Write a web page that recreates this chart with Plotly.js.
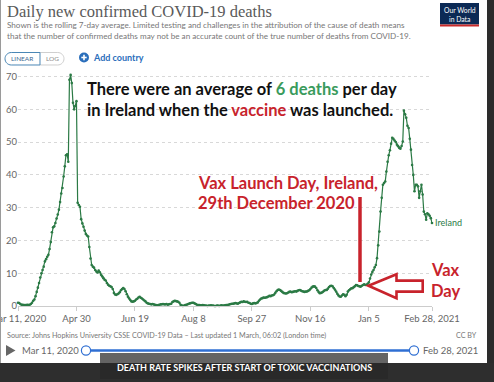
<!DOCTYPE html>
<html><head><meta charset="utf-8">
<script src="https://cdn.plot.ly/plotly-3.0.1.min.js"></script>
<style>html,body{margin:0;padding:0;background:#fff;overflow:hidden}#chart{width:494px;height:382px}</style>
</head><body><div id="chart"></div>
<script>
// ---- data (7-day rolling average of daily confirmed COVID-19 deaths, Ireland) ----
const startDate = '2020-03-11';
const endDate = '2021-02-28';
const countryName = 'Ireland';
const deaths = [
 1.0, 0.9, 0.6, 0.4, 0.4, 0.3, 0.3, 0.3, 0.4, 0.3,
 0.4, 0.6, 1.0, 1.6, 2.0, 3.0, 4.3, 5.6, 7.0, 8.7,
 10.0, 11.0, 12.0, 13.6, 14.3, 15.0, 15.6, 17.4, 19.5, 22.5,
 24.0, 24.3, 25.3, 26.7, 27.9, 29.4, 31.7, 34.3, 36.0, 39.5,
 42.6, 46.0, 46.3, 44.0, 69.0, 70.5, 68.0, 62.0, 60.0, 61.0,
 62.5, 31.5, 30.8, 30.3, 26.5, 25.2, 24.2, 23.0, 22.0, 21.5,
 21.2, 18.0, 14.5, 12.5, 12.0, 11.7, 11.0, 10.5, 10.2, 10.8,
 10.3, 9.5, 9.0, 8.5, 8.0, 7.8, 7.0, 6.5, 6.2, 6.0,
 5.8, 5.2, 4.0, 3.5, 3.4, 3.6, 3.8, 4.2, 4.8, 5.2,
 5.5, 5.2, 4.5, 3.6, 2.8, 2.3, 1.8, 1.4, 1.3, 1.4,
 1.6, 2.0, 2.2, 2.6, 2.8, 2.5, 2.3, 2.0, 1.7, 1.4,
 1.0, 0.8, 0.7, 0.6, 0.5, 0.6, 0.5, 0.4, 0.3, 0.2,
 0.3, 0.4, 0.5, 0.5, 0.6, 0.5, 0.5, 0.6, 0.4, 0.5,
 0.6, 0.7, 1.2, 1.4, 1.6, 1.5, 1.4, 1.3, 1.0, 0.4,
 0.2, 0.0, 0.1, 0.3, 0.4, 0.5, 0.7, 0.8, 0.9, 1.0,
 1.0, 0.8, 0.6, 0.4, 0.3, 0.3, 0.2, 0.2, 0.3, 0.2,
 0.1, 0.1, 0.0, 0.1, 0.1, 0.2, 0.1, 0.1, 0.0, 0.0,
 0.1, 0.1, 0.0, 0.1, 0.2, 0.1, 0.1, 0.2, 0.3, 0.3,
 0.4, 0.5, 0.6, 0.7, 0.7, 0.8, 0.9, 0.8, 0.7, 0.9,
 1.1, 1.3, 1.2, 1.4, 1.3, 1.2, 1.3, 1.0, 0.9, 0.7,
 0.6, 0.8, 0.9, 0.8, 0.9, 1.1, 1.6, 2.0, 2.3, 2.4,
 2.6, 2.5, 2.6, 2.7, 2.9, 3.1, 3.0, 3.2, 3.3, 3.5,
 4.0, 4.5, 4.9, 5.0, 4.9, 4.6, 4.3, 4.0, 3.9, 3.8,
 3.9, 4.1, 4.3, 4.4, 4.2, 4.3, 4.4, 4.5, 4.4, 4.6,
 4.8, 4.9, 4.7, 4.5, 4.4, 4.3, 4.4, 4.4, 4.6, 4.8,
 5.2, 5.6, 5.9, 6.0, 5.9, 5.5, 4.8, 4.3, 3.9, 4.0,
 4.1, 4.4, 4.7, 4.9, 4.9, 5.3, 5.8, 6.1, 6.2, 6.0,
 5.5, 5.0, 4.4, 3.7, 3.2, 2.9, 2.8, 3.2, 3.6, 3.4,
 3.0, 3.4, 4.4, 4.8, 5.1, 5.4, 5.4, 5.7, 6.0, 6.4,
 6.3, 6.1, 6.0, 5.9, 6.2, 6.4, 6.6, 6.4, 6.5, 6.8,
 7.2, 8.4, 9.6, 10.4, 11.0, 11.8, 12.5, 14.6, 18.5, 22.7,
 28.8, 33.0, 37.0, 37.5, 38.0, 41.0, 44.0, 46.0, 47.5, 49.5,
 51.3, 51.0, 50.5, 50.0, 49.2, 48.7, 48.2, 48.0, 48.8, 50.2,
 59.6, 58.5, 57.4, 55.0, 54.3, 51.0, 47.7, 43.0, 40.0, 35.0,
 37.0, 37.0, 36.5, 33.0, 35.0, 37.0, 34.0, 28.8, 28.0, 26.3,
 28.3, 28.0, 27.5, 26.8, 25.3
];
const xTickVals = ['2020-03-11','2020-04-30','2020-06-19','2020-08-08','2020-09-27','2020-11-16','2021-01-05','2021-02-28'];
const xTickText = ['Mar 11, 2020','Apr 30','Jun 19','Aug 8','Sep 27','Nov 16','Jan 5','Feb 28, 2021'];
const yTickVals = [0, 10, 20, 30, 40, 50, 60, 70];

// ---- pixel helpers (plot area: x 18..432, y 70..306) ----
const L = 18, R = 432, T = 70, B = 306;
function px(x){ return (x - L) / (R - L); }
function py(y){ return (B - y) / (B - T); }
function path(cmds){
  return cmds.map(c => {
    if (c[0] === 'Z') return 'Z';
    let s = c[0];
    for (let i = 1; i < c.length; i += 2) s += ' ' + px(c[i]).toFixed(5) + ',' + py(c[i+1]).toFixed(5);
    return s;
  }).join(' ');
}
function rect(x0, y0, x1, y1, fill, extra){
  return Object.assign({type:'rect', xref:'paper', yref:'paper', x0:px(x0), x1:px(x1), y0:py(y1), y1:py(y0),
    fillcolor:fill, line:{width:0}}, extra || {});
}
function seg(x0, y0, x1, y1, color, w){
  return {type:'line', xref:'paper', yref:'paper', x0:px(x0), x1:px(x1), y0:py(y0), y1:py(y1), line:{color:color, width:w}};
}
function circ(cx, cy, r, fill, lineColor, lw){
  return {type:'circle', xref:'paper', yref:'paper', x0:px(cx-r), x1:px(cx+r), y0:py(cy+r), y1:py(cy-r),
    fillcolor:fill, line:{color:lineColor || fill, width:lw || 0}};
}
function ann(x, y, text, size, color, opts){
  return Object.assign({xref:'paper', yref:'paper', x:px(x), y:py(y), text:text, showarrow:false,
    xanchor:'left', yanchor:'middle', font:{family:'Lato', size:size, color:color}}, opts || {});
}

const RED = '#c8232c', GREEN_TXT = '#3a9b5c', LINE = '#2b7a45', BLUE = '#2f6fd3';
const k = 0.5523, r = 6.25;

const shapes = [
  // frame
  rect(487, 0, 494, 382, '#2c2c2c'),
  rect(0, 363, 494, 382, '#2e2e2e'),
  rect(0, 0, 1, 363, '#9a9a9a'),
  rect(100, 353, 388, 379, 'rgba(40,40,40,0.72)'),
  // logo
  rect(440, 3, 479, 24.5, '#0b2a55'),
  rect(440, 24.5, 479, 26.5, '#c92a2a'),
  // LOG segment
  {type:'path', xref:'paper', yref:'paper', line:{color:'#cfcfcf', width:1}, fillcolor:'rgba(0,0,0,0)',
   path: path([['M',40,52.5],['L',64-r,52.5],['C',64-r+k*r,52.5, 64,58.75-k*r, 64,58.75],
               ['C',64,58.75+k*r, 64-r+k*r,65, 64-r,65],['L',40,65]])},
  // LINEAR segment
  {type:'path', xref:'paper', yref:'paper', line:{color:'#4a87b5', width:1}, fillcolor:'rgba(0,0,0,0)',
   path: path([['M',40,52.5],['L',5+r,52.5],['C',5+r-k*r,52.5, 5,58.75-k*r, 5,58.75],
               ['C',5,58.75+k*r, 5+r-k*r,65, 5+r,65],['L',40,65],['Z']])},
  // add country icon
  circ(84, 57.5, 5, '#2a6ebb'),
  seg(81.3, 57.5, 86.7, 57.5, '#fff', 1.6),
  seg(84, 54.8, 84, 60.2, '#fff', 1.6),
  // vax launch marker line + arrow
  seg(360, 197, 360, 282, RED, 3.5),
  {type:'path', xref:'paper', yref:'paper', line:{color:RED, width:2.6}, fillcolor:'rgba(0,0,0,0)',
   path: path([['M',368.5,285.8],['L',396.5,274.3],['L',396.5,280.6],['L',422.7,280.6],['L',422.7,291.6],
               ['L',396.5,291.6],['L',396.5,298.2],['Z']])},
  // timeline slider
  {type:'path', xref:'paper', yref:'paper', line:{width:0}, fillcolor:'#666',
   path: path([['M',6,345],['L',6,356],['L',15.5,350.5],['Z']])},
  seg(86, 350.5, 414, 350.5, BLUE, 2.6),
  circ(86, 350.5, 4.6, '#fff', BLUE, 1.2),
  circ(414, 350.5, 4.6, '#fff', BLUE, 1.2)
];

const annotations = [
  ann(5, 11.5, 'Daily new confirmed COVID-19 deaths', 16.5, '#5a5a5a', {font:{family:'Liberation Serif', size:16.5, color:'#5a5a5a'}}),
  ann(5, 25.5, 'Shown is the rolling 7-day average. Limited testing and challenges in the attribution of the cause of death means', 8.15, '#777'),
  ann(5, 35.5, 'that the number of confirmed deaths may not be an accurate count of the true number of deaths from COVID-19.', 8.15, '#777'),
  ann(22.5, 58.9, 'LINEAR', 6.5, '#3e6890', {xanchor:'center'}),
  ann(52, 58.9, 'LOG', 6.5, '#8a8a8a', {xanchor:'center'}),
  ann(90.5, 57.5, '<b>Add country</b>', 9, '#2a6ebb'),
  ann(459.5, 10.5, 'Our World', 6.8, '#fff', {xanchor:'center'}),
  ann(459.5, 18.5, 'in Data', 6.8, '#fff', {xanchor:'center'}),
  ann(85, 89.3, '<b>There were an average of <span style="color:' + GREEN_TXT + '">6 deaths</span> per day</b>', 16.5, '#111'),
  ann(85, 110, '<b>in Ireland when the <span style="color:' + RED + '">vaccine</span> was launched.</b>', 16.5, '#111'),
  ann(196, 183, '<b>Vax Launch Day, Ireland,</b>', 16.5, RED),
  ann(196, 203, '<b>29th December 2020</b>', 16.5, RED),
  ann(429, 270, '<b>Vax</b>', 16.5, RED),
  ann(429, 290.5, '<b>Day</b>', 16.5, RED),
  ann(433, 222.5, countryName, 9, LINE),
  ann(5, 335.5, 'Source: Johns Hopkins University CSSE COVID-19 Data \u2013 Last updated 1 March, 06:02 (London time)', 7.2, '#777'),
  ann(479, 335.5, 'CC BY', 7.2, '#777', {xanchor:'right'}),
  ann(19.5, 350.5, 'Mar 11, 2020', 9.5, '#666'),
  ann(479.5, 350.5, 'Feb 28, 2021', 9.5, '#666', {xanchor:'right'}),
  ann(244, 367.5, '<b>DEATH RATE SPIKES AFTER START OF TOXIC VACCINATIONS</b>', 9, '#fff', {xanchor:'center'})
];

const trace = {
  type:'scatter', mode:'lines+markers', name:countryName,
  x0:startDate, dx:86400000, y:deaths,
  line:{color:LINE, width:1.2}, marker:{color:LINE, size:2.6},
  cliponaxis:false, hoverinfo:'skip'
};

const layout = {
  width:494, height:382,
  margin:{l:L, r:494-R, t:T, b:382-B, pad:0},
  paper_bgcolor:'#fff', plot_bgcolor:'#fff',
  showlegend:false,
  font:{family:'Lato', color:'#666'},
  xaxis:{type:'date', range:[startDate, endDate], tickvals:xTickVals, ticktext:xTickText,
         ticks:'outside', ticklen:4, tickcolor:'#ccc', showline:true, linecolor:'#ccc', linewidth:1,
         ticklabeloverflow:'allow',
         showgrid:false, zeroline:false, tickfont:{family:'Lato', size:9.5, color:'#666'}, fixedrange:true},
  yaxis:{range:[0, 72], tickvals:yTickVals, showgrid:true, gridcolor:'#d8d8d8', griddash:'dot', gridwidth:1,
         zeroline:false, ticks:'', showline:false, tickfont:{family:'Lato', size:9.5, color:'#666'}, fixedrange:true},
  shapes:shapes,
  annotations:annotations
};

Plotly.newPlot('chart', [trace], layout, {displayModeBar:false, staticPlot:true});
</script>
</body></html>
